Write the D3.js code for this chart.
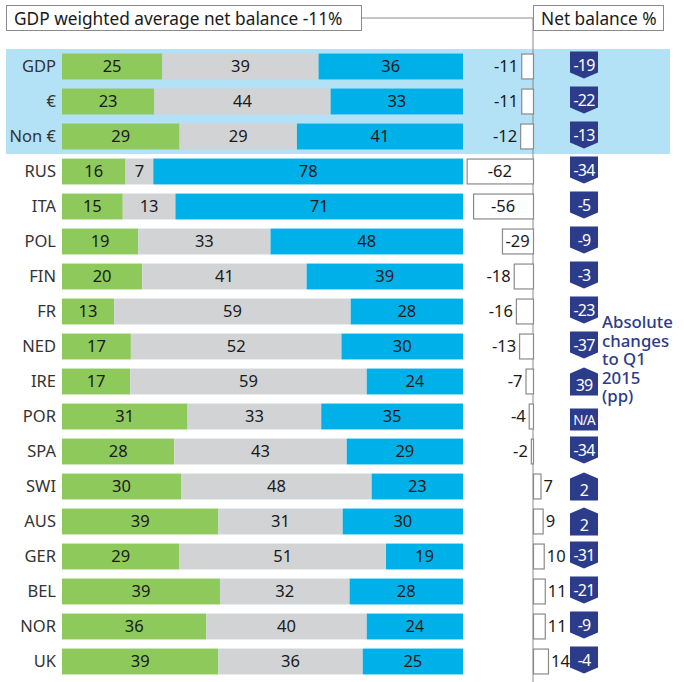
<!DOCTYPE html>
<html>
<head>
<meta charset="utf-8">
<script src="https://cdn.jsdelivr.net/npm/d3@7"></script>
<style>
  body { margin: 0; background: #fff; }
  svg text { font-family: "Noto Sans", "Open Sans", sans-serif; }
</style>
</head>
<body>
<script>
// rows, top to bottom
const categories = ["GDP", "€", "Non €", "RUS", "ITA", "POL", "FIN", "FR", "NED", "IRE", "POR", "SPA", "SWI", "AUS", "GER", "BEL", "NOR", "UK"];
const greenVals = [25, 23, 29, 16, 15, 19, 20, 13, 17, 17, 31, 28, 30, 39, 29, 39, 36, 39];
const greyVals  = [39, 44, 29, 7, 13, 33, 41, 59, 52, 59, 33, 43, 48, 31, 51, 32, 40, 36];
const blueVals  = [36, 33, 41, 78, 71, 48, 39, 28, 30, 24, 35, 29, 23, 30, 19, 28, 24, 25];
const netBalance = [-11, -11, -12, -62, -56, -29, -18, -16, -13, -7, -4, -2, 7, 9, 10, 11, 11, 14];
const changes = [-19, -22, -13, -34, -5, -9, -3, -23, -37, 39, null, -34, 2, 2, -31, -21, -9, -4];
const highlighted = ["GDP", "€", "Non €"];

const width = 684, height = 682;
const colors = { green: "#8dc95b", grey: "#d1d3d5", blue: "#00b1e9" };
const navy = "#2c3b8a";
const axisX = 533;
const fs = 16.5;

const svg = d3.select("body").append("svg")
    .attr("width", width)
    .attr("height", height);

const y = d3.scaleBand()
    .domain(categories)
    .range([49, 679])
    .paddingInner(0.26)
    .paddingOuter(0.13);

const x = d3.scaleLinear().domain([0, 1]).range([62, 463]);
const net = d3.scaleLinear().domain([-70, 20]).range([axisX - 70 * 1.07, axisX + 20 * 1.07]);

// highlight band behind the aggregate rows
const hTop = y(highlighted[0]) - 4.5;
const hBot = y(highlighted[highlighted.length - 1]) + y.bandwidth() + 4.5;
svg.append("rect")
    .attr("x", 6).attr("y", hTop)
    .attr("width", 664).attr("height", hBot - hTop)
    .attr("fill", "#b3e1f6");

// header boxes + connector
svg.append("line")
    .attr("x1", 361).attr("x2", axisX)
    .attr("y1", 18).attr("y2", 18)
    .attr("stroke", "#8a8a8a");
svg.append("line")
    .attr("x1", axisX).attr("x2", axisX)
    .attr("y1", 18).attr("y2", height)
    .attr("stroke", "#8a8a8a");

function headerBox(x0, x1, label) {
    svg.append("rect")
        .attr("x", x0 + 0.5).attr("y", 5.5)
        .attr("width", x1 - x0).attr("height", 25)
        .attr("fill", "#fff").attr("stroke", "#8a8a8a");
    svg.append("text")
        .attr("x", x0 + 8).attr("y", 24.5)
        .attr("font-size", 17.3)
        .attr("fill", "#1a1a1a")
        .text(label);
}
headerBox(6, 361, "GDP weighted average net balance -11%");
headerBox(533, 663, "Net balance %");

// stacked bars
const rows = categories.map((c, i) => {
    const total = greenVals[i] + greyVals[i] + blueVals[i];
    const parts = [
        { key: "green", v: greenVals[i] },
        { key: "grey", v: greyVals[i] },
        { key: "blue", v: blueVals[i] }
    ];
    let acc = 0;
    parts.forEach((p) => { p.x0 = acc / total; acc += p.v; p.x1 = acc / total; });
    return { cat: c, parts: parts, net: netBalance[i], change: changes[i] };
});

const row = svg.selectAll("g.row")
    .data(rows)
    .join("g")
    .attr("class", "row")
    .attr("transform", (d) => `translate(0,${y(d.cat)})`);

const bh = y.bandwidth();
const base = bh / 2 + 6;

row.append("text")
    .attr("x", 56).attr("y", base)
    .attr("text-anchor", "end")
    .attr("font-size", fs)
    .attr("fill", "#333")
    .text((d) => d.cat);

const seg = row.selectAll("g.seg")
    .data((d) => d.parts)
    .join("g")
    .attr("class", "seg");
seg.append("rect")
    .attr("x", (d) => x(d.x0))
    .attr("width", (d) => x(d.x1) - x(d.x0))
    .attr("height", bh)
    .attr("fill", (d) => colors[d.key]);
seg.append("text")
    .attr("x", (d) => (x(d.x0) + x(d.x1)) / 2)
    .attr("y", base)
    .attr("text-anchor", "middle")
    .attr("font-size", fs)
    .attr("fill", "#1a1a1a")
    .text((d) => d.v);

// net balance bars
row.append("rect")
    .attr("x", (d) => Math.min(net(0), net(d.net)) + 0.5)
    .attr("y", 0.5)
    .attr("width", (d) => Math.abs(net(d.net) - net(0)))
    .attr("height", bh - 1)
    .attr("fill", "#fff")
    .attr("stroke", "#8a8a8a")
    .attr("stroke-width", 1.2);
row.append("text")
    .attr("x", (d) => {
        if (d.net <= -25) return (net(d.net) + net(0)) / 2;
        if (d.net < 0) return net(d.net) - 3;
        return net(d.net) + 3;
    })
    .attr("y", base)
    .attr("text-anchor", (d) => d.net <= -25 ? "middle" : (d.net < 0 ? "end" : "start"))
    .attr("font-size", fs)
    .attr("fill", "#1a1a1a")
    .text((d) => d.net);

// change badges
const bx = 570, bw = 28;
function badgePath(v, c) {
    if (v === null) return `M${bx},${c - 8}H${bx + bw}V${c + 14}H${bx}Z`;
    if (v < 0) return `M${bx},${c - 15}H${bx + bw}V${c + 6}L${bx + bw / 2},${c + 12}L${bx},${c + 6}Z`;
    return `M${bx},${c - 8}L${bx + bw / 2},${c - 14}L${bx + bw},${c - 8}V${c + 14}H${bx}Z`;
}
row.append("path")
    .attr("d", (d) => badgePath(d.change, bh / 2))
    .attr("fill", navy);
row.append("text")
    .attr("x", bx + bw / 2)
    .attr("y", (d) => d.change === null ? bh / 2 + 8.5 : (d.change < 0 ? bh / 2 + 4.5 : bh / 2 + 9.5))
    .attr("text-anchor", "middle")
    .attr("font-size", (d) => d.change === null ? 13.5 : 16)
    .attr("letter-spacing", (d) => d.change === null ? -0.8 : -0.8)
    .attr("fill", "#fff")
    .text((d) => d.change === null ? "N/A" : d.change);

// side note
const note = ["Absolute", "changes", "to Q1", "2015", "(pp)"];
svg.append("text")
    .attr("x", 602).attr("y", 328)
    .attr("font-size", 16.8)
    .attr("font-weight", 500)
    .attr("fill", navy)
    .selectAll("tspan")
    .data(note)
    .join("tspan")
    .attr("x", 602)
    .attr("dy", (d, i) => i === 0 ? 0 : 18.5)
    .text((d) => d);
</script>
</body>
</html>
